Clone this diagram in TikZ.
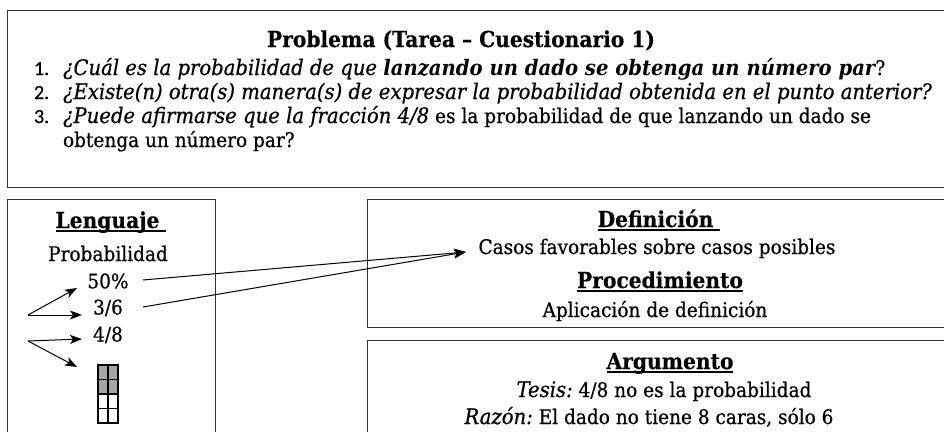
\documentclass[tikz,border=0pt]{standalone}
\usepackage{fontspec}
\setmainfont{DejaVu Serif}[FakeStretch=0.92,UprightFeatures={FakeBold=0.6},ItalicFeatures={FakeBold=0.6},BoldFeatures={FakeBold=0.3}]
\newfontfamily\numfont{Carlito}[FakeBold=0.4]
\usetikzlibrary{arrows.meta,calc}
\definecolor{cellgray}{HTML}{A6A6A6}
\definecolor{linegray}{HTML}{333333}
\newlength\mwid
\newsavebox\ulbox
\newcommand\uline[1]{\sbox\ulbox{#1}\rlap{\rule[-3.6pt]{\wd\ulbox}{1.3pt}}\usebox\ulbox}
\newcommand\calib[4]{\settowidth\mwid{\fontsize{10}{12}\selectfont#2#3}\pgfmathsetmacro#1{10*#4/\mwid}\global\let#1#1}
\newcommand\fR{\fontsize{\rs}{\rs}\selectfont\mdseries\upshape}
\newcommand\fI{\fontsize{\is}{\is}\selectfont\mdseries\itshape}
\newcommand\fB{\fontsize{\bs}{\bs}\selectfont\bfseries\upshape}
\newcommand\fBI{\fontsize{\is}{\is}\selectfont\bfseries\itshape}
\newcommand\fN{\fontsize{20}{20}\numfont}
\begin{document}
\calib\rs{}{Casos favorables sobre casos posibles}{357}%
\calib\bs{\bfseries}{Problema (Tarea – Cuestionario 1)}{388}%
\calib\is{\itshape}{¿Existe(n) otra(s) manera(s) de expresar la probabilidad obtenida en el punto anterior?}{869}%
\begin{tikzpicture}[x=1pt,y=-1pt,
  txt/.style={inner sep=0pt,outer sep=0pt,text=black},
  box/.style={draw=linegray,line width=1pt,inner sep=0pt,anchor=north west},
  arr/.style={-{Stealth[length=12pt,width=9pt,inset=3pt]},line width=1pt}]
\useasboundingbox (0,0) rectangle (944,431);
\clip (0,0) rectangle (944,431);
\fill[white] (0,0) rectangle (944,431);
% boxes
\node[box,minimum width=943pt,minimum height=177pt] (prob) at (7,10) {};
\node[box,minimum width=208pt,minimum height=250pt] (leng) at (7,199) {};
\node[box,minimum width=583pt,minimum height=128pt] (defi) at (367,199) {};
\node[box,minimum width=583pt,minimum height=110pt] (argu) at (367,340) {};
% problem text
\node[txt,anchor=base] (title) at (461,47) {\fB Problema (Tarea – Cuestionario 1)};
\node[txt,anchor=base west] (k1) at (34,75) {\fN 1.};
\node[txt,anchor=base west] (k2) at (34,99) {\fN 2.};
\node[txt,anchor=base west] (k3) at (34,123) {\fN 3.};
\node[txt,anchor=base west] (q1) at (63,75) {\fI ¿Cuál es la probabilidad de que \fBI lanzando un dado se obtenga un número par\fR ?};
\node[txt,anchor=base west] (q2) at (63,99) {\fI ¿Existe(n) otra(s) manera(s) de expresar la probabilidad obtenida en el punto anterior?};
\node[txt,anchor=base west] (q3) at (63,123) {\fI ¿Puede afirmarse que la fracción 4/8\fR\ es la probabilidad de que lanzando un dado se};
\node[txt,anchor=base west] (q3b) at (63,147) {\fR obtenga un número par?};
% lenguaje
\node[txt,anchor=base] (lh) at (111,228) {\fB\uline{Lenguaje\ }};
\node[txt,anchor=base] (lp) at (108,261) {\fR Probabilidad};
\node[txt] (n50) at (108,281) {\fR 50\%};
\node[txt] (n36) at (108,308) {\fR 3/6};
\node[txt] (n48) at (108,335) {\fR 4/8};
\node[inner sep=0pt,minimum width=20pt,minimum height=58pt] (grid) at (108,394) {};
\fill[cellgray] (grid.north west) rectangle (grid.east);
\draw[line width=1.5pt] (grid.north west) rectangle (grid.south east);
\draw[line width=1.5pt] (grid.north) -- (grid.south);
\foreach \f in {0.25,0.5,0.75}
  \draw[line width=1.5pt] ($(grid.north west)!\f!(grid.south west)$) -- ($(grid.north east)!\f!(grid.south east)$);
% definicion / procedimiento
\node[txt,anchor=base] (dh) at (659,227) {\fB\uline{Definición\ }};
\node[txt,anchor=base] (casos) at (657,254) {\fR Casos favorables sobre casos posibles};
\node[txt,anchor=base] (ph) at (660,288) {\fB\uline{Procedimiento}};
\node[txt,anchor=base] (pt) at (655,317) {\fR Aplicación de definición};
% argumento
\node[txt,anchor=base] (ah) at (670,369) {\fB\uline{Argumento}};
\node[txt,anchor=base] (tesis) at (664,397) {\fI Tesis:\fR\ 4/8 no es la probabilidad};
\node[txt,anchor=base] (razon) at (649,424) {\fI Razón:\fR\ El dado no tiene 8 caras, sólo 6};
% arrows
\coordinate (o1) at (28,315);
\coordinate (o2) at (28,341);
\coordinate (t50) at (77,288);
\coordinate (t36) at (82,315);
\coordinate (t48) at (82,339);
\coordinate (tg) at (77,367);
\coordinate (s50) at (143,280);
\coordinate (s36) at (143,307);
\coordinate (tipD) at (466,252);
\draw[arr] (o1) -- (t50);
\draw[arr] (o1) -- (t36);
\draw[arr] (o2) -- (t48);
\draw[arr] (o2) -- (tg);
\draw[arr] (s50) -- (tipD);
\draw[arr] (s36) -- (tipD);
\end{tikzpicture}
\end{document}
